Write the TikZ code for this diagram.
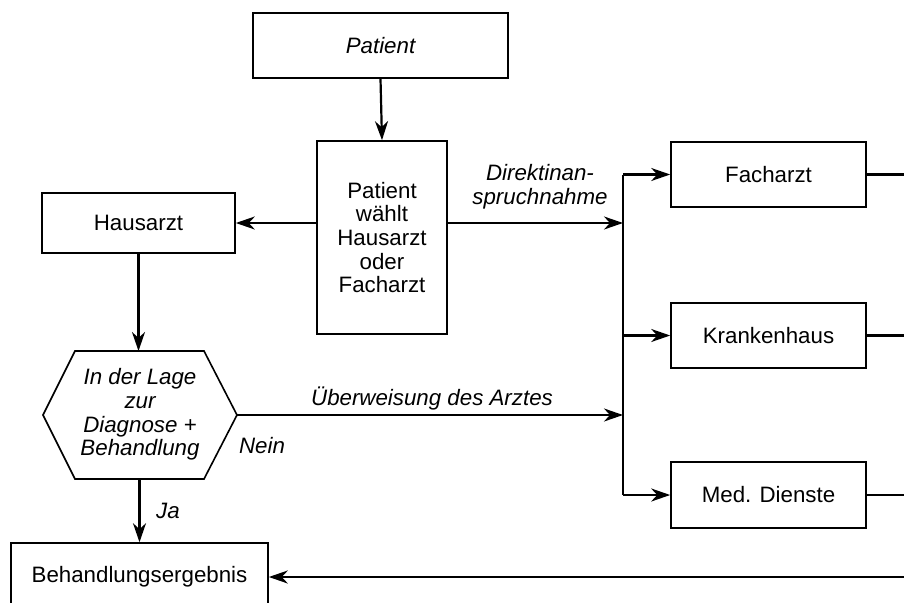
\documentclass[tikz,border=0pt]{standalone}
\usepackage{fontspec}
\setmainfont{Liberation Sans}
\usetikzlibrary{arrows.meta}
\begin{document}
\begin{tikzpicture}[x=1pt,y=-1pt,
  box/.style={draw,line width=1.6pt,inner sep=0pt,align=center,font=\fontsize{22.3}{23.6}\selectfont},
  lbl/.style={inner sep=0pt,align=center,font=\fontsize{22.3}{23.6}\selectfont\itshape},
  conn/.style={line width=2.2pt},
  arr/.style={conn,-{Stealth[length=19pt,width=13pt,inset=6pt]}}]
\useasboundingbox (0,0) rectangle (904,602);
\clip (0,0) rectangle (904,602);
\fill[white] (0,0) rectangle (904,602);
% nodes
\node[box,minimum width=255pt,minimum height=65pt,font=\fontsize{22.3}{23.6}\selectfont\itshape] (patient) at (380.5,45.5) {Patient};
\node[box,minimum width=130pt,minimum height=193pt] (choice) at (382,237.5) {Patient\\wählt\\Hausarzt\\oder\\Facharzt};
\node[box,minimum width=193pt,minimum height=60pt] (haus) at (138.5,223) {Hausarzt};
\node[box,minimum width=195pt,minimum height=65pt] (fach) at (768.5,174.5) {Facharzt};
\node[box,minimum width=195pt,minimum height=65pt] (kh) at (768.5,335.5) {Krankenhaus};
\node[box,minimum width=195pt,minimum height=66pt] (med) at (768.5,495) {Med. Dienste};
\node[box,minimum width=257pt,minimum height=68pt] (result) at (139.5,577) {Behandlungsergebnis};
% hexagon
\coordinate (hexL) at (43,415);
\coordinate (hexTL) at (75,351);
\coordinate (hexTR) at (204,351);
\coordinate (hexR) at (237,415);
\coordinate (hexBR) at (204,479);
\coordinate (hexBL) at (75,479);
\coordinate (hexT) at (138.5,351);
\coordinate (hexB) at (139.5,479);
\draw[line width=1.6pt,line join=miter] (hexL) -- (hexTL) -- (hexTR) -- (hexR) -- (hexBR) -- (hexBL) -- cycle;
\node[lbl] (hex) at (140,414.5) {In der Lage\\zur\\Diagnose +\\Behandlung};
% helper coordinates
\coordinate (bus) at (623,0);
\coordinate (edge) at (912,0);
% connectors
\draw[arr] (patient.south) -- (choice.north);
\draw[arr] (haus.east -| choice.west) -- (haus.east);
\draw[arr] (haus.south) -- (hexT);
\draw[arr] (hexB) -- (result.north);
\draw[arr] (choice.east |- haus.east) -- (bus |- haus.east);
\draw[arr] (hexR) -- (bus |- hexR);
\draw[conn] (bus |- fach.west) -- (bus |- med.west);
\draw[arr] (bus |- fach.west) -- (fach.west);
\draw[arr] (bus |- kh.west) -- (kh.west);
\draw[arr] (bus |- med.west) -- (med.west);
\draw[conn] (fach.east) -- (fach.east -| edge);
\draw[conn] (kh.east) -- (kh.east -| edge);
\draw[conn] (med.east) -- (med.east -| edge);
\draw[arr] (edge |- result.east) -- (result.east);
% labels
\node[lbl] (direkt) at (540,187) {Direktinan-\\spruchnahme};
\node[lbl] (ueber) at (432,398) {Überweisung des Arztes};
\node[lbl] (nein) at (262,446) {Nein};
\node[lbl] (ja) at (168,511) {Ja};
\end{tikzpicture}
\end{document}
